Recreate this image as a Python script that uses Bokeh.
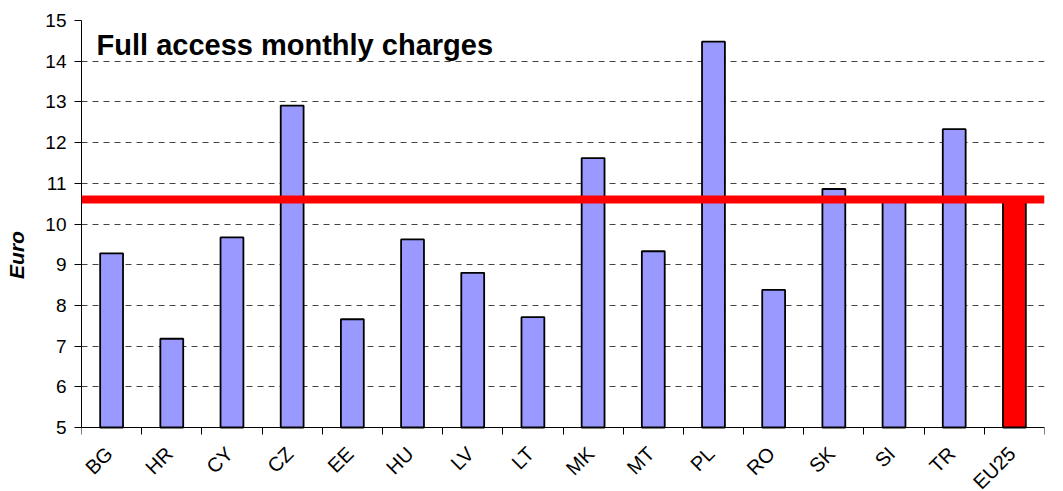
import math
from bokeh.plotting import figure
from bokeh.models import ColumnDataSource, Range1d, FixedTicker, Span, Label, LabelSet
from bokeh.core.properties import value
from bokeh.embed import file_html
from bokeh.resources import INLINE

countries = ["BG", "HR", "CY", "CZ", "EE", "HU", "LV", "LT", "MK", "MT",
             "PL", "RO", "SK", "SI", "TR", "EU25"]
charges = [9.28, 7.18, 9.67, 12.91, 7.66, 9.62, 8.80, 7.71, 11.62, 9.33,
           14.48, 8.38, 10.86, 10.62, 12.33, 10.60]
eu25_average = 10.60
y_ticks = [5, 6, 7, 8, 9, 10, 11, 12, 13, 14, 15]
y_min, y_max = 5, 15

blue = "#9999FF"
red = "#FF0000"
colors = [red if c == "EU25" else blue for c in countries]
n = len(countries)
xs = [i + 0.5 for i in range(n)]

# frame extends below y_min so that the rotated category labels can sit inside it
H, TOP, BOT = 489, 20, 0
frame_px = H - TOP - BOT
axis_px = 407  # pixels for y_min..y_max
y_start = y_max - (y_max - y_min) * frame_px / axis_px
lab_y = y_min - 15 * (y_max - y_min) / axis_px

src = ColumnDataSource(dict(x=xs, top=charges, color=colors, name=countries,
                            lx=[x - 0.17 for x in xs], ly=[lab_y] * n))

p = figure(width=1060, height=H, output_backend="svg", toolbar_location=None,
           x_range=Range1d(0, n), y_range=Range1d(y_start, y_max),
           min_border_left=81, min_border_top=TOP, min_border_right=16,
           min_border_bottom=BOT)
p.outline_line_color = None
p.background_fill_color = "white"

p.vbar(x="x", top="top", bottom=y_min, width=0.38, fill_color="color",
       line_color="black", line_width=1.8, source=src)

p.add_layout(Span(location=eu25_average, dimension="width", line_color=red,
                  line_width=8))

# grid
p.xgrid.visible = False
p.ygrid.ticker = FixedTicker(ticks=y_ticks)
p.ygrid.grid_line_color = "#444444"
p.ygrid.grid_line_dash = "6 5"
p.ygrid.grid_line_width = 1

# y axis
p.yaxis.ticker = FixedTicker(ticks=y_ticks)
p.yaxis.bounds = (y_min, y_max)
p.yaxis.axis_line_color = "black"
p.yaxis.major_tick_out = 7
p.yaxis.major_tick_in = 0
p.yaxis.minor_tick_line_color = None
p.yaxis.major_label_text_font = "Liberation Sans"
p.yaxis.major_label_text_font_size = "19px"
p.yaxis.major_label_text_color = "black"
p.yaxis.major_label_standoff = 8
p.yaxis.axis_label = "Euro"
p.yaxis.axis_label_text_font = "Liberation Sans"
p.yaxis.axis_label_text_font_style = "bold italic"
p.yaxis.axis_label_text_font_size = "21px"
p.yaxis.axis_label_text_color = "black"
p.yaxis.axis_label_standoff = 14

# x axis drawn at y = y_min, ticks at category boundaries, labels drawn separately
p.xaxis.fixed_location = y_min
p.xaxis.ticker = FixedTicker(ticks=xs, minor_ticks=list(range(n + 1)))
p.xaxis.major_label_overrides = {x: "" for x in xs}
p.xaxis.major_label_text_font_size = "0px"
p.xaxis.major_label_standoff = 0
p.xaxis.major_tick_out = 0
p.xaxis.major_tick_in = 0
p.xaxis.minor_tick_out = 7
p.xaxis.minor_tick_in = 0
p.xaxis.minor_tick_line_color = "black"
p.xaxis.axis_line_color = "black"

p.add_layout(LabelSet(x="lx", y="ly", text="name", source=src,
                      angle=math.pi / 4, text_align="right", text_baseline="top",
                      text_font=value("Liberation Sans"), text_font_size="20px",
                      text_color="black"))

p.add_layout(Label(x=0.25, y=14.39, text="Full access monthly charges",
                   text_font="Liberation Sans", text_font_style="bold",
                   text_font_size="29px", text_color="black",
                   text_baseline="middle"))

open("out.html", "w").write(file_html(p, INLINE))
